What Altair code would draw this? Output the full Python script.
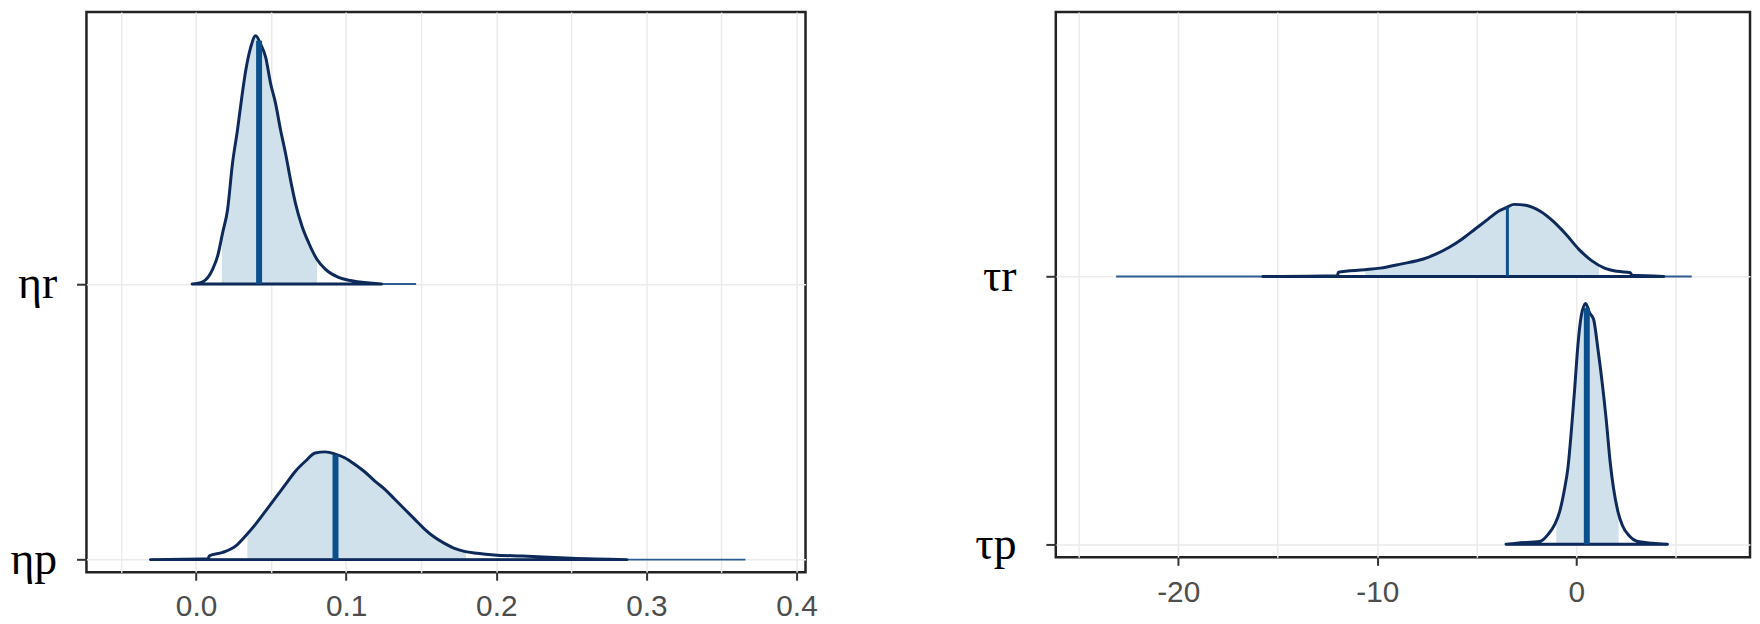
import altair as alt
import pandas as pd

# ---------------- values ----------------
# Left panel: row 1 = ηr, row 0 = ηp ; heights are in units of the row spacing
eta_r_x = [-0.0026, 0.0044, 0.0111, 0.0144, 0.0177, 0.0210, 0.0243, 0.0276, 0.0305,
           0.0331, 0.0364, 0.0397, 0.0430, 0.0464, 0.0497, 0.0530, 0.0563, 0.0596,
           0.0629, 0.0662, 0.0706, 0.0750, 0.0805, 0.0861, 0.0949, 0.1037, 0.1236]
eta_r_h = [0.000, 0.008, 0.054, 0.102, 0.186, 0.270, 0.439, 0.559, 0.679,
           0.775, 0.859, 0.901, 0.871, 0.823, 0.727, 0.655, 0.559, 0.475,
           0.379, 0.294, 0.210, 0.150, 0.090, 0.054, 0.024, 0.012, 0.000]

eta_p_x = [-0.0304, 0.0080, 0.0089, 0.0177, 0.0265, 0.0331, 0.0397, 0.0464, 0.0530,
           0.0596, 0.0662, 0.0728, 0.0794, 0.0861, 0.0927, 0.0993, 0.1059, 0.1125,
           0.1191, 0.1258, 0.1324, 0.1390, 0.1456, 0.1522, 0.1589, 0.1655, 0.1721,
           0.1787, 0.1875, 0.1986, 0.2173, 0.2500, 0.2870]
eta_p_h = [0.000, 0.003, 0.014, 0.026, 0.050, 0.087, 0.129, 0.177, 0.225,
           0.273, 0.321, 0.357, 0.387, 0.391, 0.383, 0.369, 0.345, 0.318,
           0.285, 0.255, 0.219, 0.183, 0.147, 0.111, 0.081, 0.059, 0.041,
           0.030, 0.023, 0.017, 0.013, 0.005, 0.000]

# Right panel: row 1 = τr, row 0 = τp
tau_r_x = [-15.75, -12.00, -11.95, -10.61, -9.85, -8.77, -7.68, -7.03, -6.38,
           -5.73, -5.08, -4.43, -3.89, -3.46, -3.13, -2.48, -1.83, -1.18,
           -0.53, 0.12, 0.77, 1.42, 2.07, 2.72, 2.80, 4.40]
tau_r_h = [0.000, 0.003, 0.016, 0.025, 0.031, 0.047, 0.065, 0.084, 0.109,
           0.140, 0.177, 0.214, 0.244, 0.259, 0.269, 0.265, 0.244, 0.207,
           0.158, 0.102, 0.059, 0.031, 0.019, 0.014, 0.004, 0.000]

tau_p_x = [-3.53, -2.99, -1.83, -1.41, -1.08, -0.83, -0.58, -0.42, -0.25,
           -0.08, 0.08, 0.25, 0.47, 0.67, 0.87, 1.09, 1.30, 1.50,
           1.70, 1.87, 2.09, 2.33, 2.67, 3.17, 3.83, 4.58]
tau_p_h = [0.000, 0.004, 0.010, 0.037, 0.074, 0.123, 0.210, 0.284, 0.420,
           0.580, 0.741, 0.852, 0.899, 0.864, 0.840, 0.728, 0.605, 0.469,
           0.309, 0.210, 0.123, 0.068, 0.031, 0.009, 0.004, 0.000]

# inner (shaded) intervals and the curve height at their edges
eta_r_inner = [0.0172, 0.0806]; eta_r_inner_h = [0.170, 0.090]
eta_p_inner = [0.0342, 0.1798]; eta_p_inner_h = [0.094, 0.029]
tau_r_inner = [-10.60, 1.15];   tau_r_inner_h = [0.025, 0.042]
tau_p_inner = [-1.00, 2.13];    tau_p_inner_h = [0.088, 0.112]

# medians and their line heights
eta_r_med = [0.0420, 0.883]
eta_p_med = [0.0929, 0.381]
tau_r_med = [-3.46, 0.259]
tau_p_med = [0.53, 0.883]

# full draw ranges (thin baseline)
eta_r_range = [-0.0026, 0.1466]
eta_p_range = [-0.0304, 0.3660]
tau_r_range = [-23.12, 5.80]
tau_p_range = [-3.53, 4.63]

left_ticks = [-0.05, 0.0, 0.05, 0.1, 0.15, 0.2, 0.25, 0.3, 0.35, 0.4]
right_ticks = [-25, -20, -15, -10, -5, 0, 5]

# ---------------- build tables ----------------
def tables(specs):
    curve, fill, med, rng = [], [], [], []
    for name, row, xs, hs, inner, inner_h, m, r in specs:
        for x, h in zip(xs, hs):
            curve.append({"param": name, "x": x, "top": row + h, "base": row})
        fill.append({"param": name, "x": inner[0], "top": row + inner_h[0], "base": row})
        for x, h in zip(xs, hs):
            if inner[0] < x < inner[1]:
                fill.append({"param": name, "x": x, "top": row + h, "base": row})
        fill.append({"param": name, "x": inner[1], "top": row + inner_h[1], "base": row})
        med.append({"param": name, "x": m[0], "base": row, "top": row + m[1]})
        rng.append({"param": name, "lo": r[0], "hi": r[1], "row": row})
    return (pd.DataFrame(curve), pd.DataFrame(fill), pd.DataFrame(med), pd.DataFrame(rng))


GRID = "#ebebeb"
TICK = "#333333"


def panel(specs, xdomain, ydomain, xvals, label_expr, tick_test, ylabels, ypad, width, height):
    curve_df, fill_df, med_df, rng_df = tables(specs)
    xscale = alt.Scale(domain=xdomain, nice=False, zero=False)
    yscale = alt.Scale(domain=ydomain, nice=False, zero=False)
    xaxis = alt.Axis(values=xvals, labelExpr=label_expr,
                     tickOpacity={"condition": {"test": tick_test, "value": 1}, "value": 0},
                     grid=True, gridColor=GRID, gridWidth=1.5,
                     tickSize=8, tickWidth=2, tickColor=TICK,
                     labelFont="Liberation Sans", labelFontSize=30, labelColor="#4d4d4d",
                     labelPadding=12, labelOverlap=False, labelFlush=False,
                     domain=False, title=None)
    yaxis = alt.Axis(values=[0, 1],
                     labelExpr="datum.value == 1 ? '%s' : '%s'" % (ylabels[0], ylabels[1]),
                     grid=True, gridColor=GRID, gridWidth=1.5,
                     tickSize=10, tickWidth=2, tickColor=TICK,
                     labelFont="Liberation Serif", labelFontSize=46, labelColor="#000000",
                     labelPadding=ypad, labelOverlap=False, domain=False, title=None)

    fill = alt.Chart(fill_df).mark_area(color="#d1e1ec", opacity=1, interpolate="monotone").encode(
        x=alt.X("x:Q", scale=xscale, axis=xaxis),
        y=alt.Y("top:Q", scale=yscale, axis=yaxis),
        y2="base:Q",
        detail="param:N",
    )
    rng = alt.Chart(rng_df).mark_rule(color="#2b5c92", strokeWidth=2).encode(
        x=alt.X("lo:Q", scale=xscale),
        x2="hi:Q",
        y=alt.Y("row:Q", scale=yscale),
    )
    outline = alt.Chart(curve_df).mark_area(
        fillOpacity=0, stroke="#0d2a5a", strokeWidth=3, strokeJoin="round",
        interpolate="monotone",
    ).encode(
        x=alt.X("x:Q", scale=xscale),
        y=alt.Y("top:Q", scale=yscale),
        y2="base:Q",
        detail="param:N",
    )
    med = alt.Chart(med_df).mark_rule(color="#0b4f8c").encode(
        x=alt.X("x:Q", scale=xscale),
        y=alt.Y("base:Q", scale=yscale),
        y2="top:Q",
        strokeWidth=alt.condition(alt.datum.param == "τr", alt.value(3), alt.value(6)),
    )
    return alt.layer(fill, rng, outline, med).properties(width=width, height=height)


left = panel(
    [("ηr", 1, eta_r_x, eta_r_h, eta_r_inner, eta_r_inner_h, eta_r_med, eta_r_range),
     ("ηp", 0, eta_p_x, eta_p_h, eta_p_inner, eta_p_inner_h, eta_p_med, eta_p_range)],
    xdomain=[-0.0730, 0.4060], ydomain=[-0.0458, 1.987], xvals=left_ticks,
    label_expr="abs(datum.value*10 - round(datum.value*10)) < 0.001 ? format(datum.value, '.1f') : ''",
    tick_test="abs(datum.value*10 - round(datum.value*10)) < 0.001",
    ylabels=["ηr", "ηp"], ypad=20, width=724, height=564,
)

right = panel(
    [("τr", 1, tau_r_x, tau_r_h, tau_r_inner, tau_r_inner_h, tau_r_med, tau_r_range),
     ("τp", 0, tau_p_x, tau_p_h, tau_p_inner, tau_p_inner_h, tau_p_med, tau_p_range)],
    xdomain=[-26.15, 8.73], ydomain=[-0.049, 1.987], xvals=right_ticks,
    label_expr="datum.value % 10 == 0 ? '' + datum.value : ''",
    tick_test="datum.value % 10 == 0",
    ylabels=["τr", "τp"], ypad=30, width=699, height=549,
)

chart = alt.hconcat(left, right, spacing=252, bounds="flush").properties(
    padding={"left": 0, "top": 0, "right": 0, "bottom": 0}
).configure(
    background="white",
    view=alt.ViewConfig(stroke="#222222", strokeWidth=2.5),
)

chart.save("out.html", embed_options={"renderer": "svg", "actions": False})
